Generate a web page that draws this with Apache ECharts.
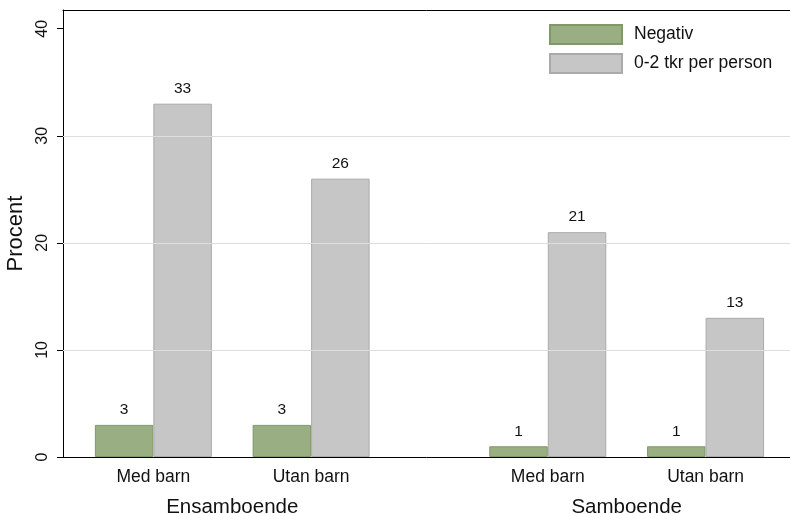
<!DOCTYPE html>
<html>
<head>
<meta charset="utf-8">
<script src="https://cdn.jsdelivr.net/npm/echarts@6/dist/echarts.min.js"></script>
<style>
html,body{margin:0;padding:0;background:#fff;}
#chart{width:790px;height:514px;}
</style>
</head>
<body>
<div id="chart"></div>
<script>
// ---- data ----
const subgroups = ["Med barn", "Utan barn", "Med barn", "Utan barn"];
const groups = ["Ensamboende", "Samboende"];
const seriesNames = ["Negativ", "0-2 tkr per person"];
const negativ = [3, 3, 1, 1];
const lowIncome = [33, 26, 21, 13];
const yTicks = [0, 10, 20, 30, 40];
const gridValues = [10, 20, 30];

// ---- layout (slot positions on a category axis) ----
const nSlots = 8;
const subSlot = [0, 2, 5, 7];
const groupSlot = [1, 6];

const slots = Array.from({length: nSlots}, (_, i) => String(i));
function toSlots(vals) {
  const out = new Array(nSlots).fill('-');
  vals.forEach((v, i) => { out[subSlot[i]] = v; });
  return out;
}
function subLabel(idx) {
  const k = subSlot.indexOf(idx);
  return k >= 0 ? subgroups[k] : '';
}
function groupLabel(idx) {
  const k = groupSlot.indexOf(idx);
  return k >= 0 ? groups[k] : '';
}

const FONT = '"Liberation Sans", Arial, Helvetica, sans-serif';
const YMAX = 41.75;

const chart = echarts.init(document.getElementById('chart'), null, {renderer: 'canvas'});
const labelStyle = {show: true, position: 'top', distance: 7, fontSize: 15.5, color: '#111', fontFamily: FONT};

chart.setOption({
  animation: false,
  backgroundColor: '#fff',
  textStyle: {fontFamily: FONT},
  grid: [
    {left: 63, right: 0, top: 10, bottom: 57, outerBoundsMode: 'none', containLabel: false},
    {left: 113.9, right: 45, top: 10, bottom: 57, outerBoundsMode: 'none', containLabel: false}
  ],
  legend: {
    data: seriesNames,
    orient: 'vertical',
    left: 549,
    top: 24,
    padding: 0,
    itemWidth: 72,
    itemHeight: 19,
    itemGap: 8,
    icon: 'rect',
    textStyle: {fontSize: 17.5, color: '#111', fontFamily: FONT, padding: [0, 0, 0, 7]}
  },
  xAxis: [
    {gridIndex: 0, type: 'value', min: 0, max: 1, position: 'bottom',
     axisLine: {show: true, lineStyle: {color: '#000', width: 1}},
     axisTick: {show: false}, axisLabel: {show: false}, splitLine: {show: false}},
    {gridIndex: 0, type: 'value', min: 0, max: 1, position: 'top',
     axisLine: {show: true, lineStyle: {color: '#000', width: 1}},
     axisTick: {show: false}, axisLabel: {show: false}, splitLine: {show: false}},
    {gridIndex: 1, type: 'category', data: slots, position: 'bottom',
     axisLine: {show: false}, axisTick: {show: false},
     axisLabel: {interval: 0, margin: 11, fontSize: 17.5, color: '#111', fontFamily: FONT,
       formatter: (v, i) => subLabel(i)}},
    {gridIndex: 1, type: 'category', data: slots, position: 'bottom',
     axisLine: {show: false}, axisTick: {show: false},
     axisLabel: {interval: 0, margin: 40, fontSize: 20.5, color: '#111', fontFamily: FONT,
       formatter: (v, i) => groupLabel(i)}}
  ],
  yAxis: [
    {gridIndex: 0, type: 'value', min: 0, max: YMAX, interval: 10,
     name: 'Procent', nameLocation: 'middle', nameGap: 36,
     nameTextStyle: {fontSize: 22, color: '#111', fontFamily: FONT},
     axisLine: {show: true, lineStyle: {color: '#000', width: 1}},
     axisTick: {show: true, length: 6, customValues: yTicks, lineStyle: {color: '#000'}},
     axisLabel: {rotate: 90, margin: 12, fontSize: 16, color: '#111', fontFamily: FONT,
       customValues: yTicks},
     splitLine: {show: false}},
    {gridIndex: 1, type: 'value', min: 0, max: YMAX, show: false, splitLine: {show: false}}
  ],
  series: [
    {type: 'line', xAxisIndex: 0, yAxisIndex: 0, data: [], silent: true, z: 1,
     markLine: {silent: true, symbol: 'none', label: {show: false},
       lineStyle: {color: '#dddddd', width: 1, type: 'solid'},
       data: gridValues.map(v => ({yAxis: v}))}},
    {name: seriesNames[0], type: 'bar', xAxisIndex: 2, yAxisIndex: 1, z: 3, clip: false,
     data: toSlots(negativ), barWidth: 58.5, barGap: '0%',
     itemStyle: {color: '#9aae84', borderColor: '#7f9a68', borderWidth: 1},
     label: labelStyle},
    {name: seriesNames[1], type: 'bar', xAxisIndex: 2, yAxisIndex: 1, z: 3, clip: false,
     data: toSlots(lowIncome), barWidth: 58.5, barGap: '0%',
     itemStyle: {color: '#c6c6c6', borderColor: '#aaaaaa', borderWidth: 1},
     label: labelStyle}
  ]
});
</script>
</body>
</html>
